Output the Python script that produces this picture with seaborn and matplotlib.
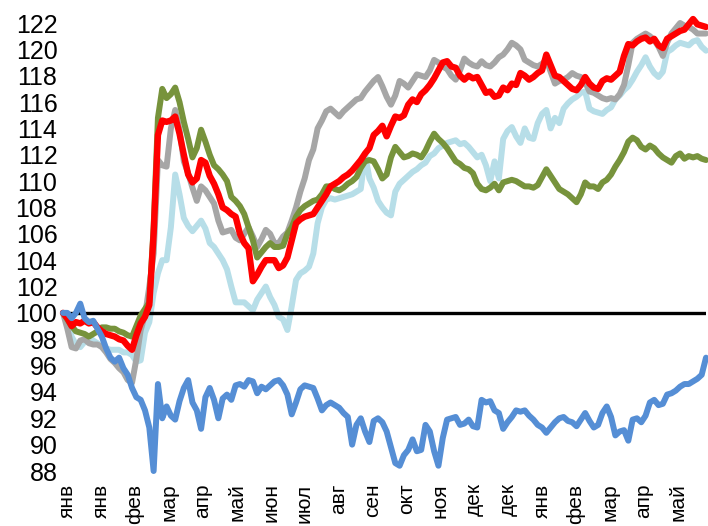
import numpy as np
import pandas as pd
import matplotlib
matplotlib.use('Agg')
import matplotlib.pyplot as plt
import seaborn as sns

# ось X: подписи месяцев
months = ['янв', 'янв', 'фев', 'мар', 'апр', 'май', 'июн', 'июл', 'авг', 'сен',
          'окт', 'ноя', 'дек', 'дек', 'янв', 'фев', 'мар', 'апр', 'май']

# индексы (100 = начало периода)
red = [100.0, 99.6, 99.0, 99.3, 99.2, 99.4, 99.2, 99.3, 98.9, 98.6,
       98.4, 98.3, 98.2, 98.0, 97.9, 97.5, 97.2, 98.3, 99.2, 99.7,
       100.6, 106.0, 113.5, 114.6, 114.5, 114.6, 114.9, 113.6, 112.0, 110.5,
       109.9, 110.2, 111.6, 111.4, 110.4, 109.8, 109.0, 108.0, 107.8, 107.5,
       107.3, 106.0, 105.3, 104.9, 102.4, 102.9, 103.5, 104.0, 104.0, 104.0,
       103.4, 103.6, 104.2, 105.5, 106.8, 107.1, 107.3, 107.4, 107.5, 108.0,
       108.5, 109.0, 109.6, 109.8, 110.0, 110.3, 110.5, 110.8, 111.2, 111.6,
       112.1, 112.5, 113.5, 113.8, 114.2, 113.4, 114.2, 114.9, 114.8, 115.0,
       115.8, 116.2, 116.0, 116.6, 116.9, 117.3, 117.8, 118.4, 119.0, 119.1,
       118.7, 118.6, 118.0, 117.7, 118.0, 117.8, 117.9, 117.3, 116.7, 116.8,
       116.4, 116.5, 117.1, 116.9, 117.4, 117.3, 118.2, 118.0, 117.7, 117.9,
       118.2, 118.4, 119.6, 118.8, 118.0, 117.9, 117.6, 117.3, 117.0, 116.9,
       117.3, 117.9, 117.4, 117.1, 117.0, 117.6, 117.8, 117.7, 118.0, 118.3,
       119.5, 120.4, 120.3, 120.6, 120.8, 120.9, 120.6, 120.8, 120.3, 120.1,
       120.8, 121.0, 121.2, 121.4, 121.5, 121.9, 122.3, 121.9, 121.8, 121.7]

gray = [100.0, 98.8, 97.4, 97.3, 97.9, 98.0, 97.7, 97.6, 97.6, 97.4,
        97.0, 96.5, 96.2, 95.8, 95.5, 94.9, 94.7, 96.5, 98.7, 99.8,
        102.0, 104.5, 111.6, 111.2, 111.1, 114.0, 115.4, 113.9, 111.5, 110.6,
        109.5, 108.5, 109.6, 109.3, 108.8, 108.3, 107.0, 106.1, 106.2, 106.3,
        105.7, 105.5, 106.0, 106.5, 105.8, 105.0, 105.6, 106.3, 106.0, 105.3,
        105.3, 105.8, 106.1, 107.0, 108.0, 109.2, 110.2, 111.6, 112.4, 114.0,
        114.6, 115.3, 115.5, 115.2, 114.9, 115.3, 115.6, 115.9, 116.2, 116.3,
        116.8, 117.2, 117.6, 117.9, 117.2, 116.4, 115.8, 116.5, 117.6, 117.4,
        117.1, 117.6, 118.1, 118.0, 117.9, 118.4, 119.2, 119.0, 118.7, 118.5,
        118.0, 117.7, 118.4, 119.3, 119.0, 118.8, 118.7, 119.1, 118.8, 118.7,
        119.0, 119.4, 119.6, 120.0, 120.5, 120.3, 120.0, 119.2, 119.0, 118.8,
        118.7, 118.9, 119.2, 118.3, 117.4, 117.6, 117.7, 117.9, 118.2, 118.0,
        117.9, 117.5, 116.8, 116.7, 116.5, 116.3, 116.2, 116.3, 116.2, 116.6,
        117.3, 118.8, 120.5, 120.8, 121.0, 121.2, 121.0, 120.7, 120.2, 119.5,
        120.5, 121.2, 121.6, 122.0, 121.8, 121.7, 121.5, 121.2, 121.2, 121.2]

light_blue = [100.0, 99.7, 98.2, 97.6, 97.4, 97.8, 98.2, 97.9, 97.7, 97.5,
              97.3, 97.2, 97.2, 97.2, 97.0, 97.0, 96.8, 96.3, 96.4, 98.5,
              99.3, 101.5, 103.0, 104.0, 104.0, 106.5, 110.5, 109.0, 107.2, 106.6,
              106.2, 106.6, 107.0, 106.4, 105.3, 105.0, 104.5, 104.0, 103.3, 102.0,
              100.8, 100.8, 100.8, 100.5, 100.2, 101.0, 101.5, 102.0, 101.2, 100.6,
              99.7, 99.5, 98.7, 100.5, 102.5, 103.0, 103.2, 103.5, 104.5, 106.8,
              108.0, 108.6, 108.7, 108.6, 108.7, 108.8, 108.9, 109.0, 109.2, 109.4,
              112.0, 110.2, 109.5, 108.5, 108.0, 107.6, 107.4, 109.2, 109.8, 110.1,
              110.4, 110.7, 110.9, 111.2, 111.4, 111.9, 112.1, 112.5, 112.7, 112.9,
              113.0, 113.1, 112.8, 112.9, 112.6, 112.2, 111.8, 112.0, 111.2, 110.0,
              111.5, 110.2, 113.2, 113.8, 114.1, 113.4, 112.9, 114.0, 113.3, 113.2,
              114.4, 115.1, 115.4, 114.0, 114.8, 114.4, 115.5, 115.9, 116.2, 116.4,
              116.7, 116.8, 115.5, 115.3, 115.2, 115.1, 115.4, 115.6, 116.2, 116.5,
              116.9, 117.2, 117.7, 118.3, 118.8, 119.4, 118.7, 118.2, 117.9, 118.3,
              119.8, 120.0, 120.3, 120.5, 120.4, 120.3, 120.6, 120.7, 120.2, 119.9]

green = [100.0, 99.5, 99.0, 98.6, 98.5, 98.4, 98.2, 98.4, 98.6, 98.9,
         98.9, 98.8, 98.8, 98.6, 98.5, 98.3, 98.2, 99.0, 99.8, 100.3,
         100.8, 106.5, 114.8, 117.0, 116.3, 116.6, 117.1, 116.0, 114.5, 113.2,
         111.8, 112.5, 113.9, 113.0, 112.0, 111.2, 110.9, 110.5, 110.0, 108.8,
         108.5, 108.1, 107.5, 106.5, 105.5, 104.2, 104.6, 105.0, 105.3, 105.0,
         105.0, 105.1, 106.0, 106.5, 107.3, 107.8, 108.1, 108.3, 108.5, 108.6,
         109.0, 109.6, 109.6, 109.4, 109.3, 109.5, 109.8, 110.0, 110.3, 111.0,
         111.5, 111.6, 111.5, 110.9, 110.2, 110.5, 111.8, 112.6, 112.2, 111.8,
         111.9, 112.1, 112.0, 111.8, 112.3, 113.0, 113.6, 113.2, 112.9, 112.5,
         112.0, 111.5, 111.3, 111.0, 110.9, 110.6, 109.8, 109.4, 109.3, 109.5,
         109.8, 109.3, 109.9, 110.0, 110.1, 110.0, 109.8, 109.6, 109.6, 109.5,
         109.7, 110.3, 110.9, 110.4, 109.9, 109.4, 109.2, 109.0, 108.7, 108.4,
         109.0, 109.9, 109.6, 109.6, 109.4, 109.9, 110.1, 110.5, 111.1, 111.6,
         112.2, 113.0, 113.3, 113.1, 112.6, 112.4, 112.7, 112.5, 112.1, 111.8,
         111.6, 111.4, 111.9, 112.1, 111.7, 111.9, 111.8, 111.9, 111.7, 111.6]

blue = [100.0, 100.0, 99.6, 100.0, 100.7, 99.6, 99.3, 99.4, 98.8, 98.2,
        97.3, 96.6, 96.3, 96.6, 95.8, 95.3, 94.3, 93.6, 93.4, 92.6,
        91.3, 88.0, 94.6, 92.0, 92.9, 92.2, 91.9, 93.3, 94.3, 94.9,
        93.2, 92.6, 91.2, 93.6, 94.3, 93.4, 92.0, 93.5, 93.8, 93.4,
        94.5, 94.6, 94.4, 94.9, 94.8, 93.9, 94.4, 94.2, 94.5, 94.8,
        94.9, 94.5, 93.8, 92.3, 93.2, 94.2, 94.5, 94.4, 94.3, 93.5,
        92.6, 93.0, 93.2, 93.0, 92.8, 92.4, 92.1, 90.0, 91.5, 92.0,
        91.0, 90.2, 91.8, 92.0, 91.7, 91.0, 89.8, 88.6, 88.4, 89.2,
        89.6, 90.4, 89.5, 89.6, 91.5, 91.0, 89.5, 88.4, 90.5, 91.9,
        92.0, 92.1, 91.5, 91.6, 91.9, 91.4, 91.3, 93.4, 93.2, 93.3,
        92.6, 92.4, 91.2, 91.7, 92.1, 92.6, 92.5, 92.6, 92.2, 91.9,
        91.5, 91.3, 90.9, 91.3, 91.7, 92.0, 92.1, 91.8, 91.7, 91.4,
        91.9, 92.4, 91.8, 91.3, 91.5, 92.4, 92.9, 92.1, 90.7, 91.0,
        91.1, 90.3, 91.9, 92.0, 91.7, 92.2, 93.2, 93.4, 93.0, 93.1,
        93.8, 93.9, 94.1, 94.4, 94.6, 94.6, 94.8, 95.0, 95.3, 96.6]

series = [
    ('light_blue', light_blue, '#b7dee8', 4.3),
    ('gray', gray, '#a6a6a6', 4.3),
    ('green', green, '#77933c', 4.3),
    ('red', red, '#ff0000', 4.6),
    ('blue', blue, '#558ed5', 4.3),
]

sns.set_theme(style='white')
plt.rcParams['font.family'] = ['Liberation Sans Narrow', 'Liberation Sans', 'DejaVu Sans']

fig = plt.figure(figsize=(7.08, 5.26), dpi=100)
ax = fig.add_axes([63 / 708, 55 / 526, 643 / 708, 448 / 526])

ax.axhline(100, color='black', lw=2.4, zorder=2)
for i, (name, vals, col, lw) in enumerate(series):
    df = pd.DataFrame({'t': np.arange(len(vals)), 'v': vals})
    sns.lineplot(data=df, x='t', y='v', ax=ax, color=col, lw=lw,
                 zorder=3 + i if name != 'light_blue' else 1, clip_on=False)

ax.set_xlim(0, len(red) - 1)
ax.set_ylim(88, 122)
ax.set_yticks(np.arange(88, 123, 2))
ax.set_yticklabels([str(v) for v in range(88, 123, 2)], fontsize=18, color='black')
ax.set_xticks(0.93 + 7.86 * np.arange(len(months)))
ax.set_xticklabels(months, rotation=90, fontsize=15, va='top', color='black')
ax.tick_params(axis='both', length=0)
ax.tick_params(axis='x', pad=9)
ax.tick_params(axis='y', pad=4)
ax.set_xlabel('')
ax.set_ylabel('')
for s in ax.spines.values():
    s.set_visible(False)

fig.savefig('out.png', dpi=100)
